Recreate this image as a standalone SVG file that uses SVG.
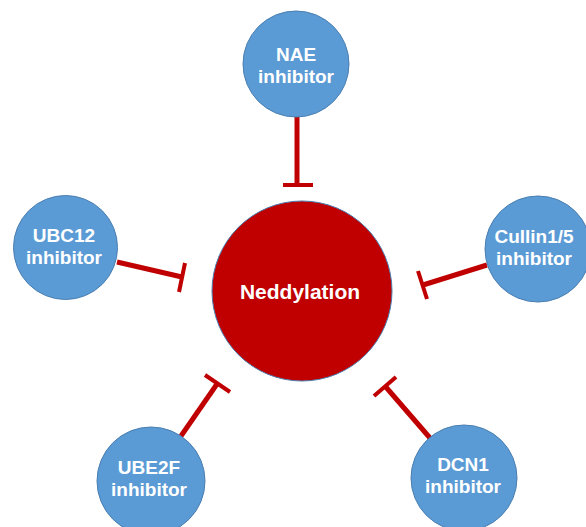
<svg xmlns="http://www.w3.org/2000/svg" width="586" height="527" viewBox="0 0 586 527">
<style>
.sat{fill:#5B9BD5;stroke:#4A7EB0;stroke-width:1}
.hub{fill:#C00000;stroke:#4A7EB0;stroke-width:1}
.lbl{font-family:"Liberation Sans",Arial,sans-serif;font-weight:bold;fill:#FFFFFF;text-anchor:middle}
.s{font-size:19px}
.h{font-size:21px}
.ln{stroke:#C00000;stroke-width:5;fill:none}
.bar{stroke:#C00000;stroke-width:4;fill:none}
</style>
<rect width="586" height="527" fill="#FFFFFF"/>
<g id="connectors">
<line class="ln" x1="297" y1="117" x2="297" y2="185"/>
<line class="bar" x1="283" y1="185" x2="313" y2="185"/>
<line class="ln" x1="117" y1="262" x2="182" y2="277"/>
<line class="bar" x1="185" y1="263" x2="179" y2="292"/>
<line class="ln" x1="487" y1="265" x2="423" y2="285"/>
<line class="bar" x1="418" y1="271" x2="427" y2="299"/>
<line class="ln" x1="181" y1="436" x2="217" y2="384"/>
<line class="bar" x1="205" y1="375" x2="230" y2="392"/>
<line class="ln" x1="430" y1="438" x2="385" y2="386"/>
<line class="bar" x1="374" y1="396" x2="396" y2="377"/>
</g>
<g id="neddylation">
<circle class="hub" cx="302" cy="291" r="90"/>
<text class="lbl h" x="300" y="299">Neddylation</text>
</g>
<g id="nae">
<circle class="sat" cx="296" cy="64" r="53"/>
<text class="lbl s" x="296" y="61">NAE</text>
<text class="lbl s" x="296" y="83">inhibitor</text>
</g>
<g id="ubc12">
<circle class="sat" cx="65.5" cy="247.5" r="52"/>
<text class="lbl s" x="64" y="242">UBC12</text>
<text class="lbl s" x="64" y="264">inhibitor</text>
</g>
<g id="cullin">
<circle class="sat" cx="538" cy="249" r="53"/>
<text class="lbl s" x="534" y="243">Cullin1/5</text>
<text class="lbl s" x="534" y="265">inhibitor</text>
</g>
<g id="ube2f">
<circle class="sat" cx="151" cy="481" r="54"/>
<text class="lbl s" x="149" y="474">UBE2F</text>
<text class="lbl s" x="149" y="496">inhibitor</text>
</g>
<g id="dcn1">
<circle class="sat" cx="464" cy="478" r="53"/>
<text class="lbl s" x="463" y="471">DCN1</text>
<text class="lbl s" x="463" y="493">inhibitor</text>
</g>
</svg>
